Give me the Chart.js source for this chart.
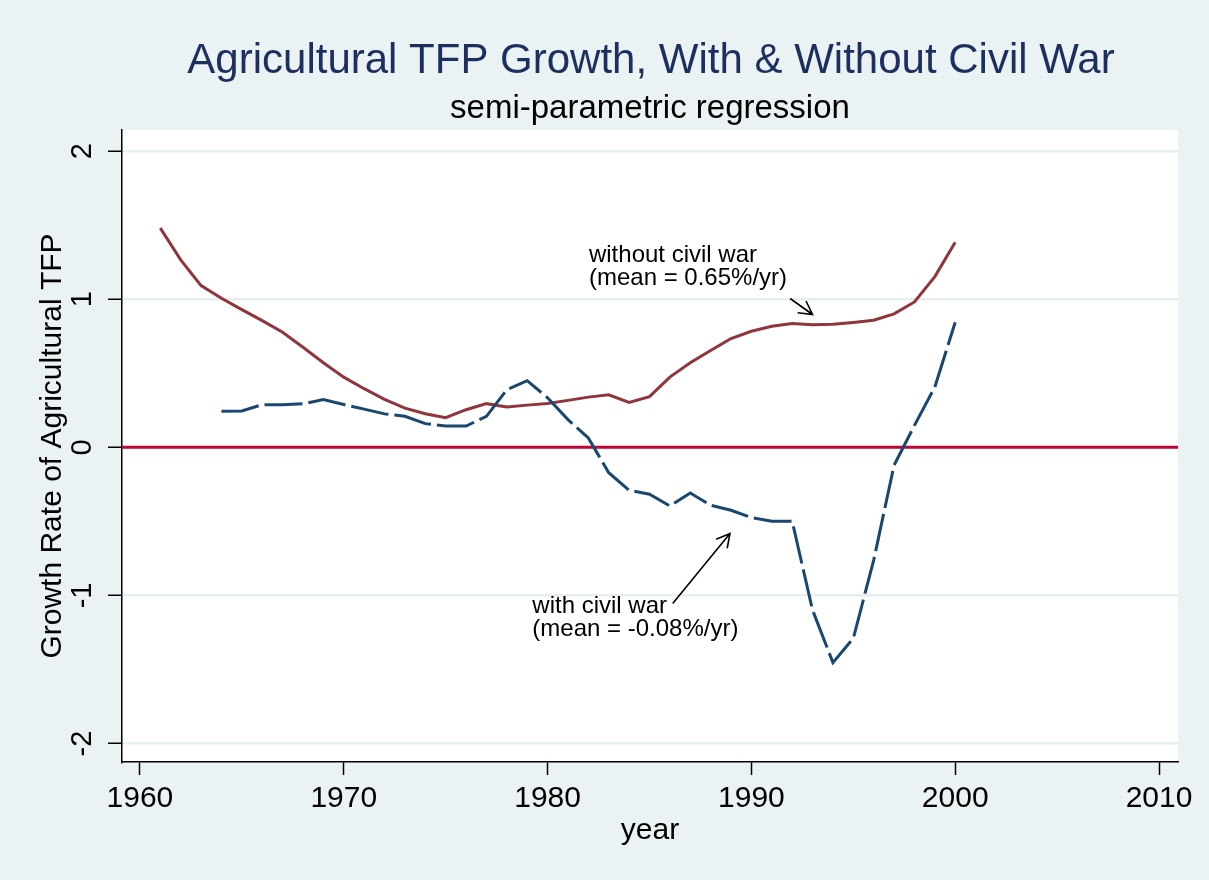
<!DOCTYPE html>
<html>
<head>
<meta charset="utf-8">
<title>Agricultural TFP Growth</title>
<script src="https://cdn.jsdelivr.net/npm/chart.js@4.4.1/dist/chart.umd.min.js"></script>
<style>
  html, body { margin: 0; padding: 0; background: #eaf2f3; }
  canvas { display: block; }
</style>
</head>
<body>
<canvas id="tfpChart" width="1209" height="880"></canvas>
<script>
// Series
const yearsWithout = [1961, 1962, 1963, 1964, 1965, 1966, 1967, 1968, 1969, 1970,
                      1971, 1972, 1973, 1974, 1975, 1976, 1977, 1978, 1979, 1980,
                      1981, 1982, 1983, 1984, 1985, 1986, 1987, 1988, 1989, 1990,
                      1991, 1992, 1993, 1994, 1995, 1996, 1997, 1998, 1999, 2000];
const growthWithout = [1.48, 1.266, 1.092, 1.007, 0.93, 0.856, 0.777, 0.676, 0.571, 0.474,
                       0.396, 0.324, 0.265, 0.227, 0.20, 0.254, 0.295, 0.272, 0.285, 0.296,
                       0.317, 0.339, 0.355, 0.303, 0.342, 0.474, 0.571, 0.654, 0.735, 0.784,
                       0.818, 0.836, 0.827, 0.831, 0.843, 0.858, 0.901, 0.982, 1.153, 1.385];

const yearsWith = [1964, 1965, 1966, 1967, 1968, 1969, 1970,
                   1971, 1972, 1973, 1974, 1975, 1976, 1977, 1978, 1979, 1980,
                   1981, 1982, 1983, 1984, 1985, 1986, 1987, 1988, 1989, 1990,
                   1991, 1992, 1993, 1994, 1995, 1996, 1997, 1998, 1999, 2000];
const growthWith = [0.243, 0.245, 0.288, 0.288, 0.294, 0.322, 0.289,
                    0.258, 0.226, 0.21, 0.16, 0.144, 0.144, 0.209, 0.389, 0.45, 0.335,
                    0.187, 0.063, -0.171, -0.29, -0.317, -0.396, -0.308, -0.391, -0.425, -0.474,
                    -0.499, -0.499, -1.099, -1.454, -1.29, -0.762, -0.121, 0.148, 0.407, 0.845];

const xTicks = [1960, 1970, 1980, 1990, 2000, 2010];
const yTicks = [-2, -1, 0, 1, 2];
const yTickLabels = ['-2', '-1', '0', '1', '2'];
const zeroLine = 0;

const titleText = 'Agricultural TFP Growth, With & Without Civil War';
const subtitleText = 'semi-parametric regression';
const xTitle = 'year';
const yTitle = 'Growth Rate of Agricultural TFP';

// Text labels with arrows, placed in data units
const notes = [
    { lines: ['without civil war', '(mean = 0.65%/yr)'], x: 1982.03, y: 1.254,
      from: [1991.9, 1.005], to: [1993.0, 0.897] },
    { lines: ['with civil war', '(mean = -0.08%/yr)'], x: 1979.25, y: -1.119,
      from: [1986.14, -1.054], to: [1988.95, -0.582] }
];

const FONT = '"Liberation Sans", Arial, sans-serif';
const NAVY = '#1a476f';
const MAROON = '#90353b';

function pairUp(xs, ys) {
    return xs.map((x, i) => ({ x: x, y: ys[i] }));
}

function drawArrow(ctx, x1, y1, x2, y2) {
    const ang = Math.atan2(y2 - y1, x2 - x1);
    const len = 15;
    ctx.beginPath();
    ctx.moveTo(x1, y1);
    ctx.lineTo(x2, y2);
    ctx.moveTo(x2 - len * Math.cos(ang - 0.5), y2 - len * Math.sin(ang - 0.5));
    ctx.lineTo(x2, y2);
    ctx.lineTo(x2 - len * Math.cos(ang + 0.5), y2 - len * Math.sin(ang + 0.5));
    ctx.stroke();
}

// Background, zero line, titles and notes
const stataLook = {
    id: 'stataLook',
    beforeDraw(chart) {
        const { ctx, chartArea: a } = chart;
        ctx.save();
        ctx.fillStyle = '#eaf2f3';
        ctx.fillRect(0, 0, chart.width, chart.height);
        ctx.fillStyle = '#ffffff';
        ctx.fillRect(a.left, a.top, a.right - a.left, a.bottom - a.top);
        ctx.restore();
    },
    beforeDatasetsDraw(chart) {
        const { ctx, chartArea: a, scales } = chart;
        const y0 = scales.y.getPixelForValue(zeroLine);
        ctx.save();
        ctx.strokeStyle = '#c10534';
        ctx.lineWidth = 3;
        ctx.beginPath();
        ctx.moveTo(a.left, y0);
        ctx.lineTo(a.right, y0);
        ctx.stroke();
        ctx.restore();
    },
    afterDraw(chart) {
        const { ctx, chartArea: a, scales } = chart;
        const midX = (a.left + a.right) / 2;
        const midY = (a.top + a.bottom) / 2;
        ctx.save();
        ctx.textAlign = 'center';
        ctx.textBaseline = 'alphabetic';

        ctx.fillStyle = '#1c2f5e';
        ctx.font = '42px ' + FONT;
        ctx.fillText(titleText, midX + 1, 73);

        ctx.fillStyle = '#000';
        ctx.font = '33px ' + FONT;
        ctx.fillText(subtitleText, midX, 118);

        ctx.font = '30px ' + FONT;
        ctx.fillText(xTitle, midX, 839);

        // rotated y tick labels and title
        yTicks.forEach((v, i) => {
            ctx.save();
            ctx.translate(91, scales.y.getPixelForValue(v));
            ctx.rotate(-Math.PI / 2);
            ctx.font = '29px ' + FONT;
            ctx.fillText(yTickLabels[i], 0, 0);
            ctx.restore();
        });
        ctx.save();
        ctx.translate(61, midY);
        ctx.rotate(-Math.PI / 2);
        ctx.font = '30px ' + FONT;
        ctx.fillText(yTitle, 0, 0);
        ctx.restore();

        // notes with arrows
        ctx.textAlign = 'left';
        ctx.font = '24px ' + FONT;
        ctx.strokeStyle = '#000';
        ctx.lineWidth = 1.6;
        notes.forEach(n => {
            const tx = scales.x.getPixelForValue(n.x);
            const ty = scales.y.getPixelForValue(n.y);
            n.lines.forEach((line, i) => ctx.fillText(line, tx, ty + i * 23));
            drawArrow(ctx,
                scales.x.getPixelForValue(n.from[0]), scales.y.getPixelForValue(n.from[1]),
                scales.x.getPixelForValue(n.to[0]), scales.y.getPixelForValue(n.to[1]));
        });
        ctx.restore();
    }
};

const ctx = document.getElementById('tfpChart').getContext('2d');

const tfpChart = new Chart(ctx, {
    type: 'line',
    data: {
        datasets: [
            {
                label: 'with civil war',
                data: pairUp(yearsWith, growthWith),
                borderColor: NAVY,
                borderWidth: 3,
                borderDash: [38, 6],
                pointRadius: 0,
                tension: 0,
                fill: false
            },
            {
                label: 'without civil war',
                data: pairUp(yearsWithout, growthWithout),
                borderColor: MAROON,
                borderWidth: 3,
                pointRadius: 0,
                tension: 0,
                fill: false
            }
        ]
    },
    options: {
        responsive: false,
        animation: false,
        layout: { padding: { top: 130, right: 31, bottom: 0, left: 0 } },
        plugins: {
            legend: { display: false },
            tooltip: { enabled: false },
            title: { display: false }
        },
        scales: {
            x: {
                type: 'linear',
                min: 1959.12,
                max: 2010.93,
                afterBuildTicks: scale => { scale.ticks = xTicks.map(v => ({ value: v })); },
                afterFit: scale => { scale.height = 118; },
                ticks: {
                    color: '#000',
                    font: { family: FONT, size: 30 },
                    padding: 6,
                    maxRotation: 0,
                    callback: value => String(value)
                },
                grid: {
                    drawOnChartArea: false,
                    drawTicks: true,
                    tickLength: 13,
                    tickColor: '#000',
                    tickWidth: 1.5
                },
                border: { display: true, color: '#000', width: 1.5 }
            },
            y: {
                type: 'linear',
                min: -2.125,
                max: 2.143,
                afterBuildTicks: scale => { scale.ticks = yTicks.map(v => ({ value: v })); },
                afterFit: scale => { scale.width = 122; },
                ticks: { display: false },
                grid: {
                    color: '#e6eef0',
                    lineWidth: 2.5,
                    drawTicks: true,
                    tickLength: 14,
                    tickColor: '#000',
                    tickWidth: 1.5
                },
                border: { display: true, color: '#000', width: 1.5 }
            }
        }
    },
    plugins: [stataLook]
});
</script>
</body>
</html>
